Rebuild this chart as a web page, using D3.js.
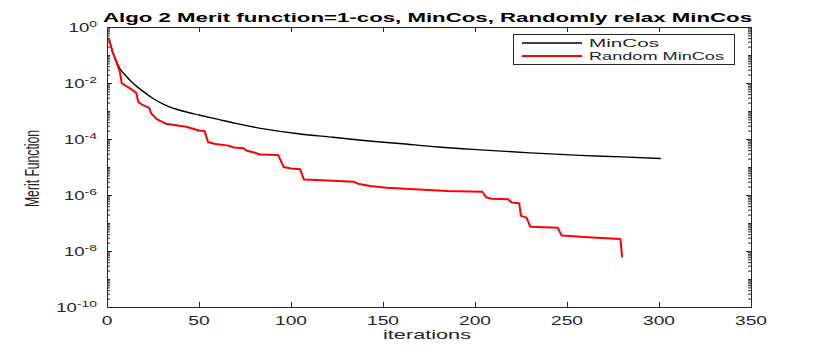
<!DOCTYPE html>
<html>
<head>
<meta charset="utf-8">
<script src="https://cdn.jsdelivr.net/npm/d3@7"></script>
<style>
  body { margin: 0; background: #fff; }
  text { font-family: "Liberation Sans", Arial, sans-serif; fill: #262626; }
</style>
</head>
<body>
<svg width="830" height="346"></svg>
<script>
// ================= DATA =================
// MinCos (black)
const minCosIter = [1, 3, 5, 7, 10, 14, 20, 25, 32, 41, 50, 60, 70, 87, 105, 123, 141, 159, 180, 203, 230, 257, 280, 301];
const minCosVal  = [0.40, 0.13, 0.063, 0.033, 0.019, 0.010, 4.8e-3, 2.8e-3, 1.6e-3, 1.0e-3, 7.2e-4, 5.1e-4, 3.6e-4,
                    2.2e-4, 1.5e-4, 1.15e-4, 8.7e-5, 6.9e-5, 5.2e-5, 4.1e-5, 3.2e-5, 2.6e-5, 2.3e-5, 2.0e-5];

// Random MinCos (red)
const randIter = [1, 3, 5, 6, 7, 8, 11, 14, 16, 17, 19, 23, 24, 27, 32, 43, 50, 53, 55, 59, 66, 69, 74, 76, 80, 83,
                  93, 96, 100, 105, 107, 123, 134, 137, 143, 152, 167, 185, 204, 206, 209, 218, 220, 224, 225, 228,
                  230, 245, 247, 266, 279, 280];
const randVal  = [0.40, 0.13, 0.058, 0.038, 0.025, 0.0098, 0.0074, 0.0056, 0.0043, 0.0021, 0.0017, 0.0013, 8.3e-4,
                  5.1e-4, 3.5e-4, 2.75e-4, 2.0e-4, 1.95e-4, 7.6e-5, 6.6e-5, 5.8e-5, 5.0e-5, 4.7e-5, 3.8e-5, 3.3e-5,
                  2.8e-5, 2.7e-5, 1.0e-5, 8.9e-6, 8.3e-6, 3.6e-6, 3.2e-6, 3.0e-6, 2.45e-6, 2.1e-6, 1.8e-6, 1.6e-6,
                  1.4e-6, 1.3e-6, 8.3e-7, 7.4e-7, 7.1e-7, 5.4e-7, 5.1e-7, 1.8e-7, 1.55e-7, 7.4e-8, 6.8e-8, 3.6e-8,
                  3.0e-8, 2.7e-8, 5.9e-9];

const xTicks = [0, 50, 100, 150, 200, 250, 300, 350];
const yLabelExp = [0, -2, -4, -6, -8, -10];
const seriesNames = ["MinCos", "Random MinCos"];
const seriesColors = ["#000000", "#ff0000"];
const titleText = "Algo 2 Merit function=1-cos, MinCos, Randomly relax MinCos";

// ================= CANVAS =================
const W = 830, H = 346;
const margin = {left: 107, top: 27, right: 79, bottom: 39};
const svg = d3.select("svg");
const axisColor = "#262626";

const x = d3.scaleLinear().domain([0, 350]).range([margin.left, W - margin.right]);
const y = d3.scaleLog().domain([1e-10, 1]).range([H - margin.bottom, margin.top]);

// ================= TICKS =================
const majorY = d3.range(0, -11, -1).filter(e => e % 2 === 0).map(e => Math.pow(10, e));
const minorY = [];
for (let e = -10; e < 0; e++) {
  for (let m = 2; m <= 9; m++) minorY.push(m * Math.pow(10, e));
  if (e % 2 !== 0) minorY.push(Math.pow(10, e));
}

function tickAxis(axis, tf, size, vals) {
  const g = svg.append("g").attr("transform", tf)
    .call(axis.tickValues(vals).tickSizeInner(-size).tickSizeOuter(0).tickFormat(""));
  g.select(".domain").remove();
  g.selectAll("line").attr("stroke", axisColor);
  return g;
}
tickAxis(d3.axisBottom(x), `translate(0,${y.range()[0]})`, 5, xTicks);
tickAxis(d3.axisTop(x), `translate(0,${y.range()[1]})`, 5, xTicks);
tickAxis(d3.axisLeft(y), `translate(${x.range()[0]},0)`, 5, majorY);
tickAxis(d3.axisLeft(y), `translate(${x.range()[0]},0)`, 3, minorY);
tickAxis(d3.axisRight(y), `translate(${x.range()[1]},0)`, 5, majorY);
tickAxis(d3.axisRight(y), `translate(${x.range()[1]},0)`, 3, minorY);

// x tick labels (wide glyphs like the original)
svg.append("g").selectAll("text").data(xTicks).enter().append("text")
  .attr("transform", d => `translate(${x(d)},${y.range()[0] + 18}) scale(1.6,1)`)
  .attr("text-anchor", "middle")
  .style("font-size", "12px")
  .text(d => d);

// y tick labels 10^k
const yl = svg.append("g").selectAll("text").data(yLabelExp).enter().append("text")
  .attr("transform", d => `translate(${x.range()[0] - 10},${y(Math.pow(10, d)) + 5}) scale(1.55,1)`)
  .attr("text-anchor", "end")
  .style("font-size", "12px");
yl.append("tspan").text("10");
yl.append("tspan").attr("dy", "-5").style("font-size", "9px").text(d => d);

// ================= LINES =================
const lineSmooth = d3.line().curve(d3.curveMonotoneX).x(d => x(d[0])).y(d => y(d[1]));
const line = d3.line().x(d => x(d[0])).y(d => y(d[1]));
svg.append("path").datum(d3.zip(minCosIter, minCosVal))
  .attr("d", lineSmooth).attr("fill", "none").attr("stroke", seriesColors[0]).attr("stroke-width", 1.4);
svg.append("path").datum(d3.zip(randIter, randVal))
  .attr("d", line).attr("fill", "none").attr("stroke", seriesColors[1]).attr("stroke-width", 2)
  .attr("stroke-linejoin", "round");

// ================= BOX =================
svg.append("rect")
  .attr("x", x.range()[0] + 0.5).attr("y", y.range()[1] + 0.5)
  .attr("width", x.range()[1] - x.range()[0]).attr("height", y.range()[0] - y.range()[1])
  .attr("fill", "none").attr("stroke", axisColor).attr("stroke-width", 1);

// ================= TITLE / LABELS =================
svg.append("text")
  .attr("x", 103).attr("y", 21.5)
  .attr("textLength", 649).attr("lengthAdjust", "spacingAndGlyphs")
  .style("font-size", "13px").style("font-weight", "bold").style("fill", "#000")
  .text(titleText);

svg.append("text")
  .attr("x", 383).attr("y", 339)
  .attr("textLength", 88).attr("lengthAdjust", "spacingAndGlyphs")
  .style("font-size", "13px")
  .text("iterations");

svg.append("text")
  .attr("transform", "translate(39,207) rotate(-90)")
  .attr("textLength", 77).attr("lengthAdjust", "spacingAndGlyphs")
  .style("font-size", "21px")
  .text("Merit Function");

// ================= LEGEND =================
const leg = svg.append("g");
leg.append("rect")
  .attr("x", 513.5).attr("y", 34.5).attr("width", 221).attr("height", 30)
  .attr("fill", "#fff").attr("stroke", axisColor).attr("stroke-width", 1);
const legY = [43, 56];
const legLen = [70, 135];
seriesNames.forEach((name, i) => {
  leg.append("line")
    .attr("x1", 522).attr("x2", 582).attr("y1", legY[i]).attr("y2", legY[i])
    .attr("stroke", seriesColors[i]).attr("stroke-width", i === 0 ? 1.4 : 2);
  leg.append("text")
    .attr("x", 589).attr("y", legY[i] + 4)
    .attr("textLength", legLen[i]).attr("lengthAdjust", "spacingAndGlyphs")
    .style("font-size", "11.5px")
    .text(name);
});
</script>
</body>
</html>
